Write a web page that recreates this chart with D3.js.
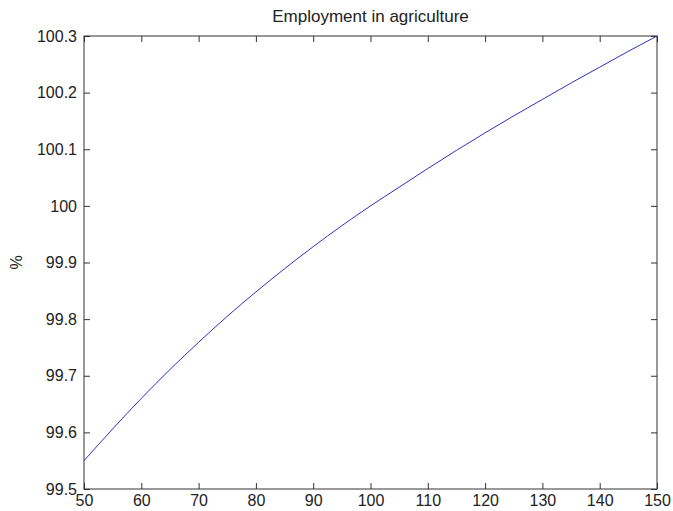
<!DOCTYPE html>
<html>
<head>
<meta charset="utf-8">
<script src="https://cdn.jsdelivr.net/npm/d3@7"></script>
<style>
  html, body { margin: 0; padding: 0; background: #fff; }
  svg text { font-family: "Liberation Sans", Arial, sans-serif; fill: #222; }
</style>
</head>
<body>
<svg id="chart" width="673" height="511"></svg>
<script>
// Employment in agriculture (%) against the x variable
const xValues = [50, 55, 60, 65, 70, 75, 80, 85, 90, 95, 100, 105, 110, 115, 120, 125, 130, 135, 140, 145, 150];
const yValues = [99.550, 99.606, 99.660, 99.711, 99.759, 99.805, 99.848, 99.889, 99.928, 99.965, 100.000,
                 100.033, 100.066, 100.098, 100.129, 100.159, 100.188, 100.217, 100.245, 100.273, 100.300];
const xTicks = [50, 60, 70, 80, 90, 100, 110, 120, 130, 140, 150];
const yTicks = [99.5, 99.6, 99.7, 99.8, 99.9, 100, 100.1, 100.2, 100.3];
const titleText = "Employment in agriculture";
const yLabelText = "%";

const svg = d3.select("#chart");
const plotLeft = 84, plotRight = 657, plotTop = 36, plotBottom = 489;

const x = d3.scaleLinear().domain([50, 150]).range([plotLeft, plotRight]);
const y = d3.scaleLinear().domain([99.5, 100.3]).range([plotBottom, plotTop]);

const axisColor = "#333";
const tickLen = 6;
const fmtY = d => (Math.round(d * 10) / 10).toString();

// bottom axis (labels) with inward ticks
const gx = svg.append("g").attr("transform", `translate(0,${plotBottom})`)
  .call(d3.axisBottom(x).tickValues(xTicks).tickSize(-tickLen).tickPadding(6).tickFormat(d3.format("d")));
// left axis (labels) with inward ticks
const gy = svg.append("g").attr("transform", `translate(${plotLeft},0)`)
  .call(d3.axisLeft(y).tickValues(yTicks).tickSize(-tickLen).tickPadding(7).tickFormat(fmtY));
// top and right mirrored ticks
const gt = svg.append("g").attr("transform", `translate(0,${plotTop})`)
  .call(d3.axisTop(x).tickValues(xTicks).tickSize(-tickLen).tickFormat(""));
const gr = svg.append("g").attr("transform", `translate(${plotRight},0)`)
  .call(d3.axisRight(y).tickValues(yTicks).tickSize(-tickLen).tickFormat(""));

[gx, gy, gt, gr].forEach(g => {
  g.select(".domain").remove();
  g.selectAll(".tick line").attr("stroke", axisColor);
  g.selectAll(".tick text").attr("font-size", 16).attr("fill", "#222")
    .attr("font-family", "'Liberation Sans', Arial, sans-serif");
});

// plot box
svg.append("rect")
  .attr("x", plotLeft).attr("y", plotTop)
  .attr("width", plotRight - plotLeft).attr("height", plotBottom - plotTop)
  .attr("fill", "none").attr("stroke", axisColor).attr("stroke-width", 1);

// data line
const data = xValues.map((v, i) => [v, yValues[i]]);
svg.append("path")
  .datum(data)
  .attr("fill", "none")
  .attr("stroke", "#3030c0")
  .attr("stroke-width", 1)
  .attr("d", d3.line().x(d => x(d[0])).y(d => y(d[1])).curve(d3.curveMonotoneX));

// title
svg.append("text")
  .attr("x", (plotLeft + plotRight) / 2).attr("y", 22)
  .attr("text-anchor", "middle").attr("font-size", 17)
  .text(titleText);

// y label
svg.append("text")
  .attr("transform", `translate(22,${(plotTop + plotBottom) / 2}) rotate(-90)`)
  .attr("text-anchor", "middle").attr("font-size", 16)
  .text(yLabelText);
</script>
</body>
</html>
